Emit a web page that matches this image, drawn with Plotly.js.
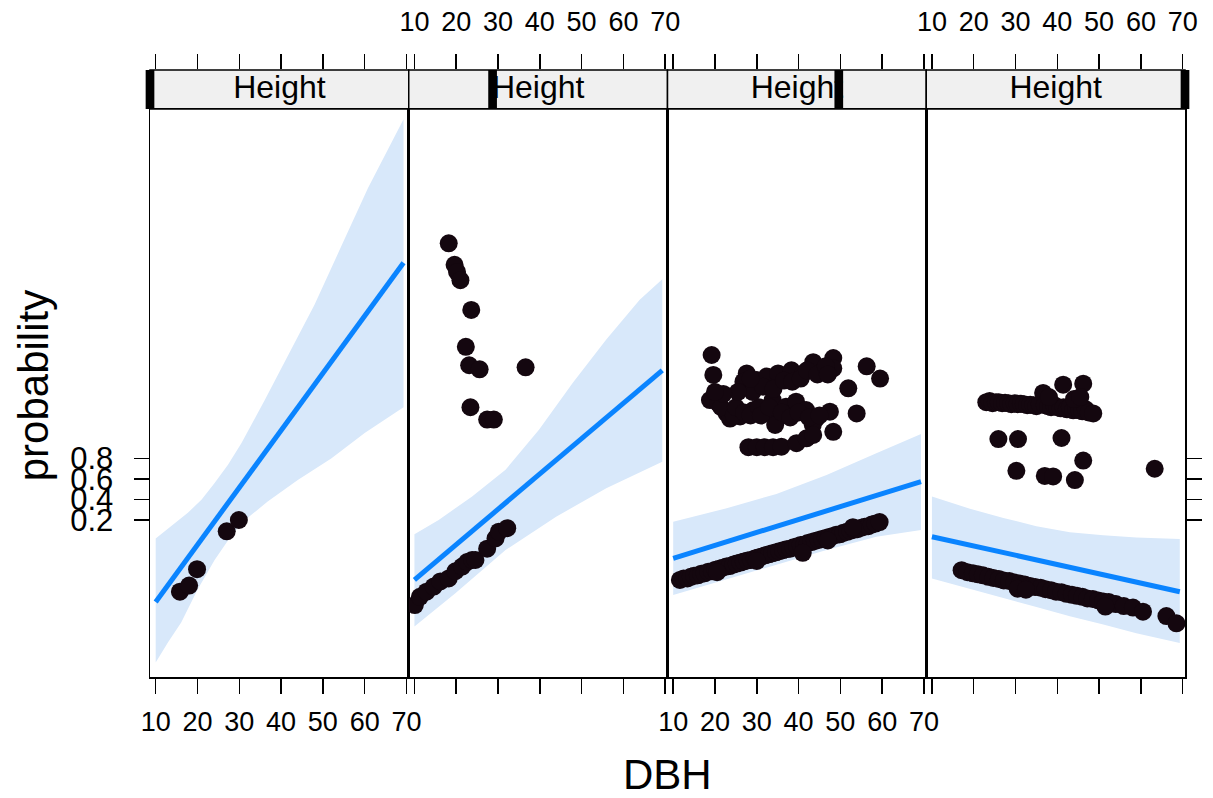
<!DOCTYPE html>
<html>
<head>
<meta charset="utf-8">
<script src="https://cdn.plot.ly/plotly-3.0.1.min.js"></script>
<style>html,body{margin:0;padding:0;background:#fff;}#chart{width:1213px;height:798px;}</style>
</head>
<body>
<div id="chart"></div>
<script>
// ---------- data (DBH on x, probability on y) ----------
const stripLabel = "Height";
const xTicks = [10, 20, 30, 40, 50, 60, 70];
const yTicks = [0.2, 0.4, 0.6, 0.8];
const yTickText = ["0.2", "0.4", "0.6", "0.8"];

// fitted lines
const fitX = [10, 69.3];
const fit1Y = [-0.60, 2.71];
const fit2Y = [-0.385, 1.66];
const fit3Y = [-0.174, 0.574];
const fit4Y = [0.037, -0.50];

// confidence bands
const up1X = [10, 14, 17.7, 21, 24.1, 27.3, 30.5, 36.1, 41.6, 48, 54.4, 60.8, 69.3];
const up1Y = [0.02, 0.15, 0.27, 0.40, 0.56, 0.74, 0.95, 1.37, 1.80, 2.30, 2.87, 3.44, 4.11];
const lo1X = [10, 13, 16.1, 20, 24.1, 27.3, 30.5, 36.8, 44, 52, 60, 69.3];
const lo1Y = [-1.19, -0.99, -0.80, -0.48, -0.19, 0.00, 0.17, 0.38, 0.59, 0.80, 1.05, 1.30];

const up2X = [10, 15.8, 23.8, 31.8, 39.8, 47.9, 55.9, 63.9, 69.3];
const up2Y = [0.06, 0.20, 0.43, 0.69, 1.08, 1.54, 1.96, 2.35, 2.55];
const lo2X = [10, 19.8, 31.8, 43.9, 55.9, 69.3];
const lo2Y = [-0.84, -0.515, -0.093, 0.232, 0.509, 0.769];

const up3X = [10, 22.8, 34.7, 46.7, 58.6, 69.3];
const up3Y = [0.183, 0.314, 0.454, 0.639, 0.851, 1.039];
const lo3X = [10, 22.8, 34.7, 46.7, 58.6, 69.3];
const lo3Y = [-0.532, -0.379, -0.239, -0.093, 0.037, 0.102];

const up4X = [10, 19.1, 27.1, 35, 43, 51, 58.9, 69.3];
const up4Y = [0.43, 0.31, 0.22, 0.14, 0.08, 0.05, 0.03, 0.015];
const lo4X = [10, 19.1, 27.1, 35, 43, 51, 58.9, 69.3];
const lo4Y = [-0.37, -0.47, -0.56, -0.65, -0.74, -0.82, -0.905, -1.00];

// observed points
const pts1X = [15.8, 18.0, 19.9, 27.0, 29.9];
const pts1Y = [-0.50, -0.44, -0.28, 0.09, 0.20];

const pts2X = [18.2, 19.6, 20.2, 21.0, 23.6, 22.3, 23.1, 25.6, 36.6, 23.4, 27.4, 29.0,
  10.1, 11.3, 12.9, 14.6, 16.2, 18.2, 19.8, 21.4, 22.6, 23.8, 24.6, 27.4, 29.4, 30.2, 32.2];
const pts2Y = [2.90, 2.69, 2.62, 2.54, 2.25, 1.89, 1.71, 1.67, 1.69, 1.30, 1.18, 1.18,
  -0.63, -0.55, -0.50, -0.45, -0.40, -0.37, -0.30, -0.255, -0.21, -0.19, -0.19, -0.08, 0.02, 0.086, 0.12];

const pts3X = [11.6, 12.5, 13.4, 14.2, 15.0, 15.9, 16.7, 17.5, 18.4, 19.3, 20.1, 21.0, 21.8, 22.7, 23.5,
  24.4, 25.2, 26.1, 26.9, 27.8, 28.6, 29.5, 30.3, 31.2, 32.0, 32.9, 33.7, 34.6, 35.4, 36.3, 37.1, 38.0,
  38.8, 39.7, 40.5, 41.4, 42.2, 43.1, 43.9, 44.8, 45.6, 46.5, 47.3, 48.2, 49.0, 49.9, 50.7, 51.6, 52.4,
  53.3, 54.1, 55.0, 55.8, 56.7, 57.5, 58.4, 59.4, 41.0, 20.5, 30.0, 47.0, 53.0,
  19.2, 19.6, 18.8, 20.8, 22.8, 23.6, 26.0, 27.6, 26.8, 30.0, 32.4, 35.1, 38.3, 41.1, 43.5, 45.9, 48.3,
  48.3, 56.3, 59.5, 51.9, 53.9, 48.3, 47.5, 29.1, 32.3, 34.7, 33.8, 37.0, 39.4, 41.8, 44.2, 43.4, 34.4,
  28.0, 30.0, 31.9, 33.9, 35.9, 39.5, 41.9, 43.5,
  21.5, 24.5, 25.0, 27.0, 28.5, 30.5, 31.0, 33.0, 36.0, 38.0, 40.0, 42.5, 45.0, 29.0, 31.5, 34.0, 36.5,
  38.5, 40.5, 42.0, 44.5, 46.5, 47.0, 28.5, 25.5, 22.0, 20.0];
const pts3Y = [-0.385, -0.37, -0.37, -0.355, -0.345, -0.34, -0.325, -0.32, -0.305, -0.30, -0.285, -0.275,
  -0.265, -0.255, -0.25, -0.235, -0.225, -0.215, -0.205, -0.195, -0.19, -0.175, -0.165, -0.155, -0.145,
  -0.135, -0.125, -0.115, -0.105, -0.095, -0.085, -0.08, -0.065, -0.055, -0.045, -0.04, -0.025, -0.015,
  -0.005, 0.005, 0.015, 0.025, 0.035, 0.045, 0.055, 0.06, 0.075, 0.085, 0.095, 0.105, 0.11, 0.125, 0.135,
  0.14, 0.155, 0.165, 0.18, -0.12, -0.31, -0.20, 0.00, 0.13,
  1.81, 1.615, 1.37, 1.34, 1.24, 1.19, 1.21, 1.63, 1.55, 1.566, 1.60, 1.63, 1.66, 1.63, 1.74, 1.65, 1.78,
  1.68, 1.70, 1.58, 1.485, 1.24, 1.06, 1.257, 1.27, 1.257, 1.176, 1.37, 1.305, 1.354, 1.273, 1.19, 1.127,
  1.127, 0.91, 0.91, 0.91, 0.91, 0.915, 0.95, 0.997, 1.03,
  1.30, 1.22, 1.30, 1.25, 1.22, 1.30, 1.22, 1.30, 1.25, 1.20, 1.25, 1.20, 1.22, 1.45, 1.50, 1.48, 1.56,
  1.55, 1.58, 1.66, 1.62, 1.70, 1.62, 1.58, 1.45, 1.43, 1.45];

const pts4X = [17.1, 18.5, 19.8, 21.0, 22.2, 23.5, 24.7, 26.0, 27.2, 28.5, 29.7, 31.0, 32.2, 33.5, 34.7,
  36.0, 37.2, 38.5, 39.7, 41.0, 42.2, 43.5, 44.7, 46.0, 47.2, 48.5, 49.8, 51.0, 52.3, 54.0, 55.9, 58.1,
  60.5, 66.1, 68.5, 30.5, 32.5, 51.5,
  23.0, 23.8, 24.5, 25.3, 26.0, 26.8, 27.5, 28.3, 29.0, 29.8, 30.5, 31.3, 32.0, 32.8, 33.5, 34.3, 35.0,
  35.8, 36.6, 37.0, 37.8, 38.5, 39.3, 40.0, 40.8, 41.4, 41.5, 42.3, 43.0, 43.8, 44.5, 45.3, 46.0, 46.2,
  46.8, 47.5, 48.6, 44.0, 45.5, 38.0,
  25.9, 30.6, 41.0, 46.2, 30.2, 37.0, 39.0, 44.2, 63.3];
const pts4Y = [-0.29, -0.31, -0.32, -0.33, -0.34, -0.355, -0.365, -0.375, -0.39, -0.395, -0.41, -0.42,
  -0.43, -0.445, -0.455, -0.46, -0.475, -0.485, -0.50, -0.505, -0.52, -0.53, -0.54, -0.55, -0.565, -0.57,
  -0.585, -0.595, -0.60, -0.62, -0.64, -0.655, -0.695, -0.737, -0.808, -0.47, -0.48, -0.645,
  1.35, 1.36, 1.34, 1.35, 1.35, 1.34, 1.345, 1.34, 1.33, 1.34, 1.33, 1.335, 1.33, 1.32, 1.325, 1.32, 1.31,
  1.33, 1.44, 1.32, 1.31, 1.30, 1.32, 1.30, 1.29, 1.52, 1.30, 1.28, 1.30, 1.27, 1.29, 1.27, 1.26, 1.53,
  1.28, 1.25, 1.24, 1.38, 1.40, 1.40,
  0.99, 0.99, 1.00, 0.78, 0.68, 0.63, 0.625, 0.59, 0.70];

// strip indicator position (fraction across each strip)
const levelPos = [0, 0.324, 0.662, 1];

// ---------- build ----------
const panels = [
  {ux: up1X, uy: up1Y, lx: lo1X, ly: lo1Y, fy: fit1Y, px: pts1X, py: pts1Y},
  {ux: up2X, uy: up2Y, lx: lo2X, ly: lo2Y, fy: fit2Y, px: pts2X, py: pts2Y},
  {ux: up3X, uy: up3Y, lx: lo3X, ly: lo3Y, fy: fit3Y, px: pts3X, py: pts3Y},
  {ux: up4X, uy: up4Y, lx: lo4X, ly: lo4Y, fy: fit4Y, px: pts4X, py: pts4Y}
];

const FONT = "Liberation Sans, Arial, Helvetica, sans-serif";
const XR = [8.64, 70.55];
const YR = [-1.332, 4.21];
const STRIP_BOT = 0.9357;
const traces = [];
const layout = {
  width: 1213, height: 798,
  margin: {l: 150, r: 28, t: 70, b: 121, pad: 0},
  paper_bgcolor: "#ffffff",
  plot_bgcolor: "rgba(0,0,0,0)",
  showlegend: false,
  font: {family: FONT, color: "#000"},
  shapes: [],
  annotations: []
};

panels.forEach((p, i) => {
  const n = i + 1, sn = i + 5;
  const xa = "x" + n, ya = "y" + n, xs = "x" + sn, ys = "y" + sn;
  const dom = [i * 0.25, (i + 1) * 0.25];
  // band
  traces.push({
    x: p.ux.concat(p.lx.slice().reverse()),
    y: p.uy.concat(p.ly.slice().reverse()),
    xaxis: xa, yaxis: ya, type: "scatter", mode: "lines",
    fill: "toself", fillcolor: "#d8e8fa", line: {width: 0, color: "rgba(0,0,0,0)"},
    hoverinfo: "skip"
  });
  // fitted line
  traces.push({
    x: fitX, y: p.fy, xaxis: xa, yaxis: ya, type: "scatter", mode: "lines",
    line: {color: "#0a84ff", width: 5}
  });
  // points
  traces.push({
    x: p.px, y: p.py, xaxis: xa, yaxis: ya, type: "scatter", mode: "markers",
    marker: {color: "#14070f", size: 18, line: {width: 0}}
  });
  // strip text
  traces.push({
    x: [(XR[0] + XR[1]) / 2], y: [0.5], xaxis: xs, yaxis: ys, type: "scatter", mode: "text",
    text: [stripLabel], textposition: "middle center",
    textfont: {family: FONT, size: 32, color: "#000"}, hoverinfo: "skip"
  });

  const showBottom = (i === 0 || i === 2);
  const showTop = (i === 1 || i === 3);
  layout["xaxis" + n] = {
    domain: dom, range: XR, anchor: ya, side: "bottom",
    showgrid: false, zeroline: false,
    showline: true, linecolor: "#000", linewidth: 1.5, mirror: true,
    ticks: "outside", ticklen: 15, tickwidth: 1.5, tickcolor: "#000",
    tickvals: xTicks, ticktext: xTicks.map(String),
    showticklabels: showBottom, ticklabelstandoff: 5,
    tickfont: {family: FONT, size: 27, color: "#000"}
  };
  layout["yaxis" + n] = {
    domain: [0, STRIP_BOT], range: YR, anchor: xa,
    side: i === 3 ? "right" : "left",
    showgrid: false, zeroline: false,
    showline: true, linecolor: "#000", linewidth: 1.5, mirror: true,
    ticks: (i === 0 || i === 3) ? "outside" : "",
    ticklen: 15, tickwidth: 1.5, tickcolor: "#000",
    tickvals: yTicks, ticktext: yTickText,
    showticklabels: i === 0, ticklabelstandoff: 14,
    tickfont: {family: FONT, size: 31, color: "#000"}
  };
  layout["xaxis" + sn] = {
    domain: dom, range: XR, anchor: ys, side: "top",
    showgrid: false, zeroline: false, showline: false,
    ticks: "outside", ticklen: 15, tickwidth: 1.5, tickcolor: "#000",
    tickvals: xTicks, ticktext: xTicks.map(String),
    showticklabels: showTop, ticklabelstandoff: 12,
    tickfont: {family: FONT, size: 27, color: "#000"}
  };
  layout["yaxis" + sn] = {
    domain: [STRIP_BOT, 1], range: [0, 1], anchor: xs,
    visible: false, showgrid: false, zeroline: false
  };
  // strip background
  layout.shapes.push({
    type: "rect", xref: "paper", yref: "paper", x0: dom[0], x1: dom[1], y0: STRIP_BOT, y1: 1,
    fillcolor: "#f0f0f0", line: {color: "#000", width: 1.5}, layer: "below"
  });
  // level indicator bar
  const c = dom[0] + levelPos[i] * 0.25;
  layout.shapes.push({
    type: "rect", xref: "paper", yref: "paper", x0: c - 0.0042, x1: c + 0.0042, y0: STRIP_BOT, y1: 1,
    fillcolor: "#000", line: {width: 0}, layer: "above"
  });
});

layout.annotations.push({
  text: "DBH", xref: "paper", yref: "paper", x: 0.5, y: -0.1614,
  xanchor: "center", yanchor: "middle", showarrow: false,
  font: {family: FONT, size: 42, color: "#000"}
});
layout.annotations.push({
  text: "probability", xref: "paper", yref: "paper", x: -0.113, y: 0.479,
  xanchor: "center", yanchor: "middle", showarrow: false, textangle: -90,
  font: {family: FONT, size: 42, color: "#000"}
});

Plotly.newPlot("chart", traces, layout, {displayModeBar: false, staticPlot: true});
</script>
</body>
</html>
